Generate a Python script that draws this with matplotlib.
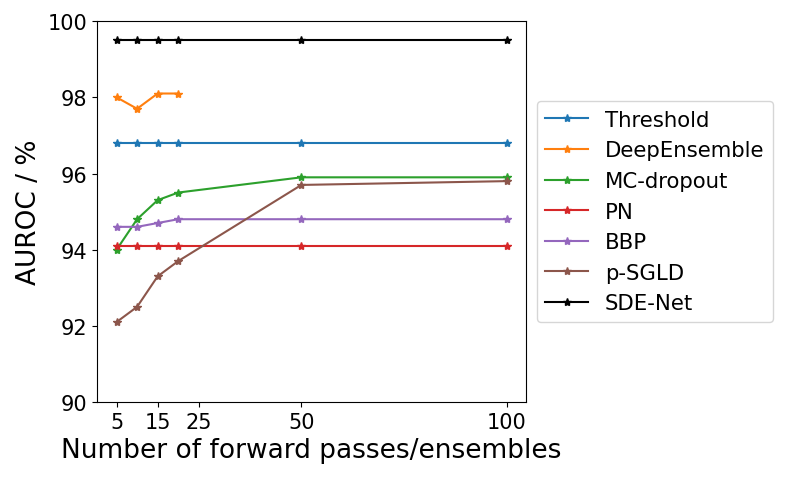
import numpy as np
import matplotlib
matplotlib.use('Agg')
import matplotlib.pyplot as plt

n_passes = [5, 10, 15, 20, 50, 100]
threshold = [96.8, 96.8, 96.8, 96.8, 96.8, 96.8]
deep_ensemble = [98.0, 97.7, 98.1, 98.1]
mc_dropout = [94.0, 94.8, 95.3, 95.5, 95.9, 95.9]
pn = [94.1, 94.1, 94.1, 94.1, 94.1, 94.1]
bbp = [94.6, 94.6, 94.7, 94.8, 94.8, 94.8]
p_sgld = [92.1, 92.5, 93.3, 93.7, 95.7, 95.8]
sde_net = [99.5, 99.5, 99.5, 99.5, 99.5, 99.5]

x_ticks = [5, 15, 25, 50, 100]

fig = plt.figure(figsize=(7.89, 4.81), dpi=100)
ax = fig.add_axes([0.123, 0.162, 0.544, 0.792])

ax.plot(n_passes, threshold, marker='*', label='Threshold')
ax.plot(n_passes[:len(deep_ensemble)], deep_ensemble, marker='*', label='DeepEnsemble')
ax.plot(n_passes, mc_dropout, marker='*', label='MC-dropout')
ax.plot(n_passes, pn, marker='*', label='PN')
ax.plot(n_passes, bbp, marker='*', label='BBP')
ax.plot(n_passes, p_sgld, marker='*', label='p-SGLD')
ax.plot(n_passes, sde_net, marker='*', color='black', label='SDE-Net')

ax.set_ylim(90, 100)
ax.set_xticks(x_ticks)
ax.tick_params(labelsize=15)
ax.set_xlabel('Number of forward passes/ensembles', fontsize=19)
ax.set_ylabel('AUROC / %', fontsize=19)
ax.legend(loc='center left', bbox_to_anchor=(1.0, 0.5), fontsize=15.3)

fig.savefig('out.png', dpi=100)
